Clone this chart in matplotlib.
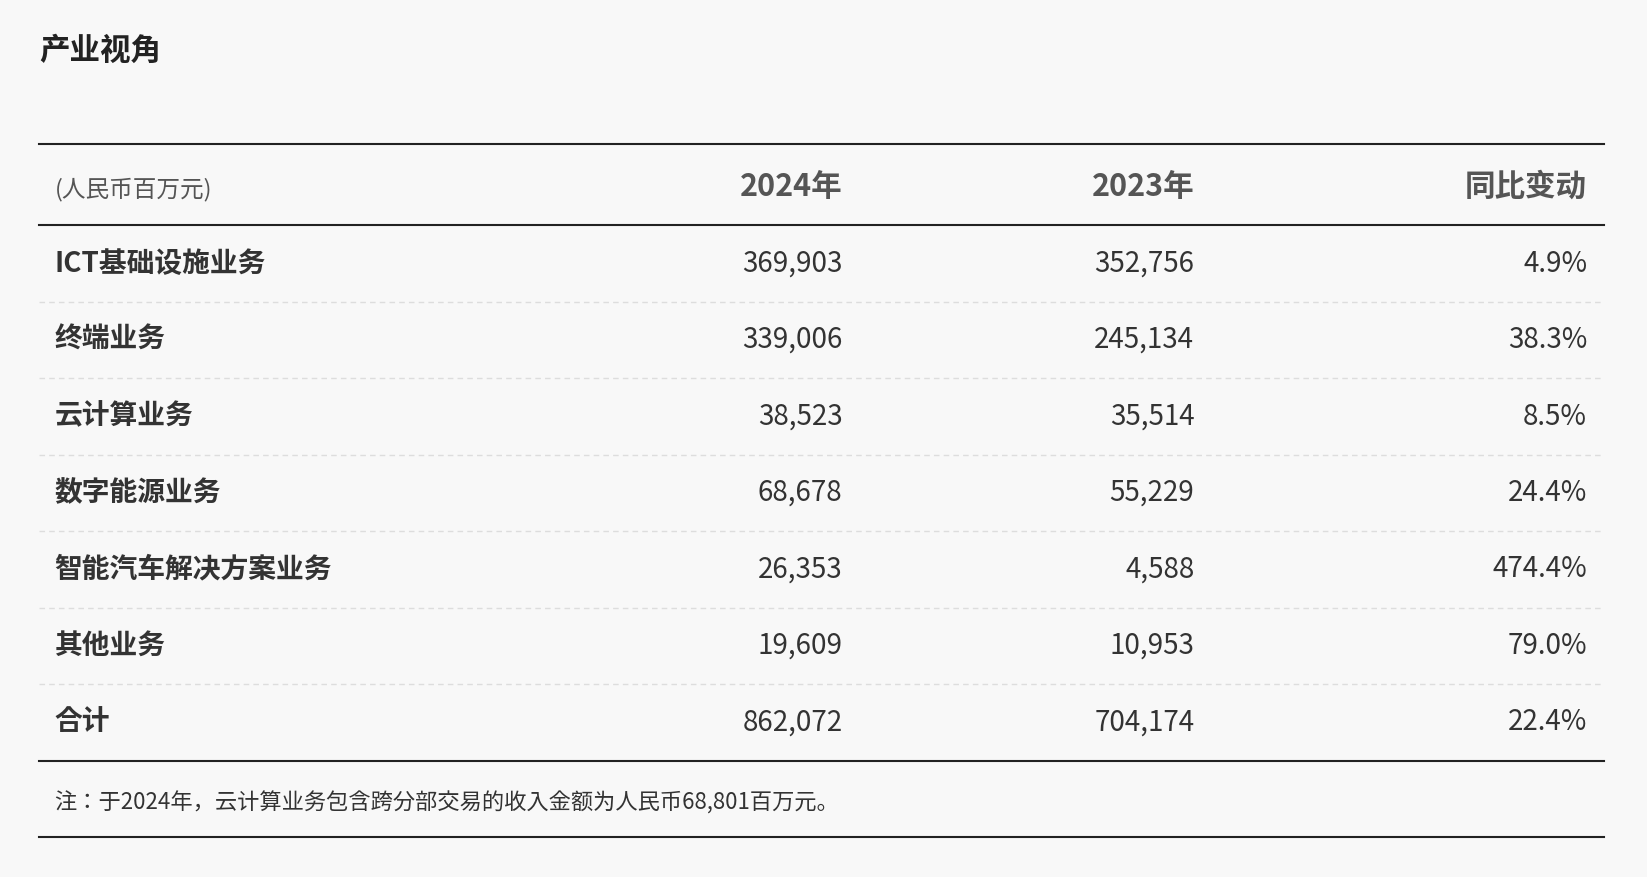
import matplotlib
matplotlib.use("Agg")
import matplotlib.pyplot as plt
from matplotlib import font_manager as fm

names = sorted({f.name for f in fm.fontManager.ttflist if "CJK" in f.name})
pref = [n for n in ["Noto Sans CJK SC", "Noto Sans CJK JP", "Noto Sans CJK TC", "Noto Sans CJK KR"] if n in names] + names
plt.rcParams["font.family"] = "sans-serif"
plt.rcParams["font.sans-serif"] = pref + ["DejaVu Sans"]

title = "产业视角"
unit_label = "(人民币百万元)"
headers = ["2024年", "2023年", "同比变动"]
categories = ["ICT基础设施业务", "终端业务", "云计算业务", "数字能源业务",
              "智能汽车解决方案业务", "其他业务", "合计"]
values_2024 = ["369,903", "339,006", "38,523", "68,678", "26,353", "19,609", "862,072"]
values_2023 = ["352,756", "245,134", "35,514", "55,229", "4,588", "10,953", "704,174"]
changes = ["4.9%", "38.3%", "8.5%", "24.4%", "474.4%", "79.0%", "22.4%"]
note = "注：于2024年，云计算业务包含跨分部交易的收入金额为人民币68,801百万元。"

W, H = 1568, 835
bg = "#f8f8f8"
fig = plt.figure(figsize=(16.47, 8.77), dpi=100, facecolor=bg)
ax = fig.add_axes([0, 0, 1, 1])
ax.set_xlim(0, W)
ax.set_ylim(H, 0)
ax.axis("off")
ax.set_facecolor(bg)

dark = "#333333"
grey = "#555555"
x0, x1 = 37, 1527
lab_x = 52
col_x = [802, 1137, 1511]

ax.text(x0, 48, title, fontsize=22, fontweight="bold", color="#222222", va="center")
ax.plot([x0, x1], [137, 137], color="#222222", lw=1.5)
ax.text(lab_x, 180, unit_label, fontsize=17, color=grey, va="center")
for x, h in zip(col_x, headers):
    ax.text(x, 178, h, fontsize=22, fontweight="bold", color=grey, va="center", ha="right")
ax.plot([x0, x1], [214, 214], color="#222222", lw=1.5)

row0, step = 251, 72.8
for i, cat in enumerate(categories):
    y = row0 + i * step
    ax.text(lab_x, y, cat, fontsize=20, fontweight="bold", color=dark, va="center")
    for x, v in zip(col_x, [values_2024[i], values_2023[i], changes[i]]):
        ax.text(x, y, v, fontsize=20, color=dark, va="center", ha="right")
    if i < len(categories) - 1:
        ys = y + step / 2
        ax.plot([x0, x1], [ys, ys], color="#dddddd", lw=1, ls=(0, (4, 3)))
ax.plot([x0, x1], [725, 725], color="#222222", lw=1.5)
ax.text(lab_x, 765, note, fontsize=16, color=dark, va="center")
ax.plot([x0, x1], [797, 797], color="#222222", lw=1.5)

fig.savefig("out.png", dpi=100, facecolor=bg)
